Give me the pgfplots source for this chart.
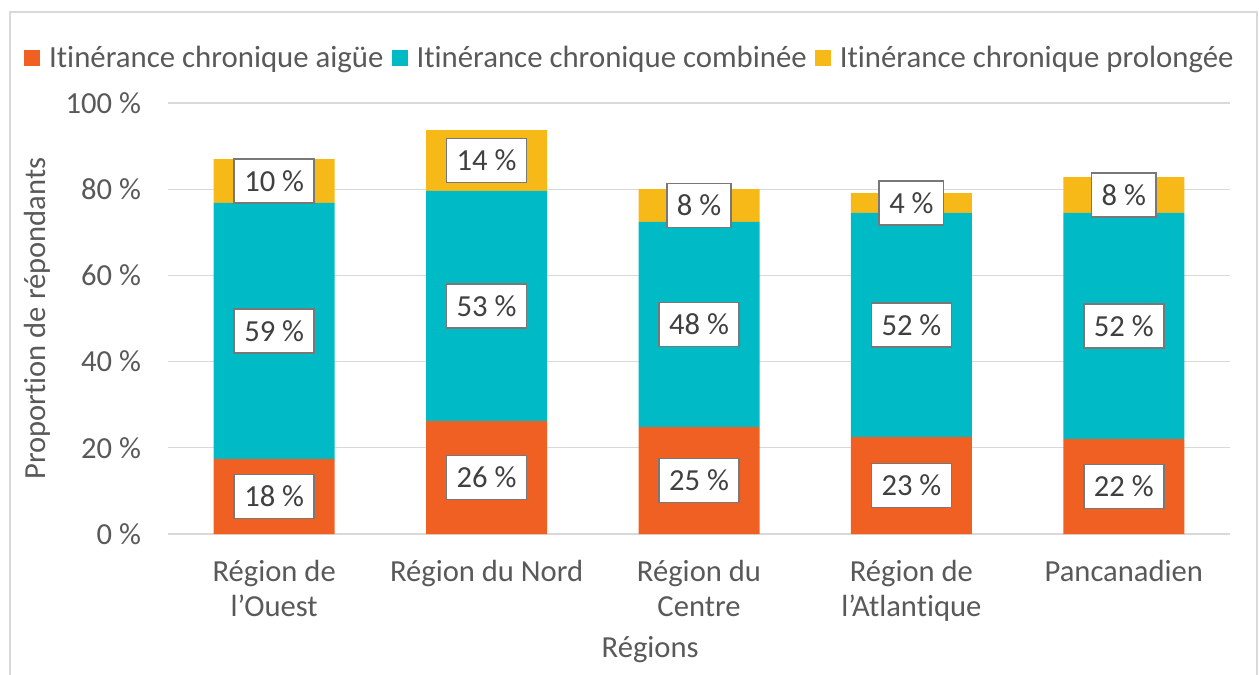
\documentclass[border=0pt]{standalone}
\usepackage{fontspec}
\setmainfont{Carlito}[Ligatures={NoCommon}]
\usepackage{pgfplots}
\pgfplotsset{compat=1.18}
\definecolor{cOr}{RGB}{240,96,34}
\definecolor{cTe}{RGB}{0,186,198}
\definecolor{cYe}{RGB}{247,185,24}
\definecolor{txt}{RGB}{89,89,89}
\definecolor{grd}{RGB}{217,217,217}
\definecolor{lbl}{RGB}{64,64,64}
\definecolor{bx}{RGB}{120,120,120}
\newcommand\f{\fontsize{15.3}{17.5}\selectfont}
\newcommand\fl{\fontsize{15.4}{17.5}\selectfont}
\begin{document}
\begin{tikzpicture}[x=1pt,y=1pt]
\draw[grd, line width=0.6pt] (5,-5) -- (5,331.5) -- (628.5,331.5) -- (628.5,-5);
\begin{axis}[
  at={(84pt,70.5pt)}, anchor=south west, scale only axis,
  width=531pt, height=215.5pt,
  xmin=-0.5, xmax=4.5, ymin=0, ymax=100,
  ybar stacked, bar width=60.5pt,
  axis line style={draw=none},
  major tick length=0pt,
  ymajorgrids, grid style={grd, line width=0.6pt},
  ytick={0,20,40,60,80,100},
  yticklabels={0 \%,20 \%,40 \%,60 \%,80 \%,100 \%},
  yticklabel style={font=\f, text=txt, xshift=-10pt},
  xtick={0,1,2,3,4},
  xticklabels={{Région de\\l’Ouest},{Région du Nord},{Région du\\Centre},{Région de\\l’Atlantique},{Pancanadien}},
  xticklabel style={font=\f, text=txt, align=center, yshift=-9.5pt},
  xlabel={Régions},
  xlabel style={font=\f, text=txt, at={(axis description cs:0.454,-0.269)}, anchor=center},
  ylabel={Proportion de répondants},
  ylabel style={font=\f, text=txt, at={(axis description cs:-0.1234,0.5)}, anchor=center},
  legend style={at={(axis description cs:-0.1415,1.104)}, anchor=west, draw=none, fill=none,
    legend columns=3, font=\fl, text=txt,
    /tikz/every odd column/.append style={column sep=2.5pt},
    /tikz/every even column/.append style={column sep=2pt}},
  legend image code/.code={\fill[#1] (0pt,-4pt) rectangle (8pt,4pt);},
]
\addplot[fill=cOr, draw=none] coordinates {(0,17.4) (1,26.2) (2,24.8) (3,22.5) (4,22.0)};
\addplot[fill=cTe, draw=none] coordinates {(0,59.4) (1,53.4) (2,47.6) (3,52.0) (4,52.5)};
\addplot[fill=cYe, draw=none] coordinates {(0,10.2) (1,14.1) (2,7.6) (3,4.6) (4,8.3)};
\legend{Itinérance chronique aigüe, Itinérance chronique combinée, Itinérance chronique prolongée}
\end{axis}
\begin{axis}[
  at={(84pt,70.5pt)}, anchor=south west, scale only axis,
  width=531pt, height=215.5pt,
  xmin=-0.5, xmax=4.5, ymin=0, ymax=100, hide axis,
]
\addplot[only marks, mark=none, point meta=explicit symbolic, nodes near coords,
  every node near coord/.style={anchor=center, draw=bx, line width=0.8pt, fill=white,
    text=lbl, font=\f, minimum height=22pt, inner xsep=5pt}]
  coordinates {
  (0,8.7) [18 \%] (0,47.1) [59 \%] (0,81.9) [10 \%]
  (1,13.1) [26 \%] (1,52.9) [53 \%] (1,86.65) [14 \%]
  (2,12.4) [25 \%] (2,48.6) [48 \%] (2,76.2) [8 \%]
  (3,11.25) [23 \%] (3,48.5) [52 \%] (3,76.8) [4 \%]
  (4,11.0) [22 \%] (4,48.25) [52 \%] (4,78.65) [8 \%]
  };
\end{axis}
\pgfresetboundingbox
\path[use as bounding box] (0,0) rectangle (629.5,337.5);
\end{tikzpicture}
\end{document}
